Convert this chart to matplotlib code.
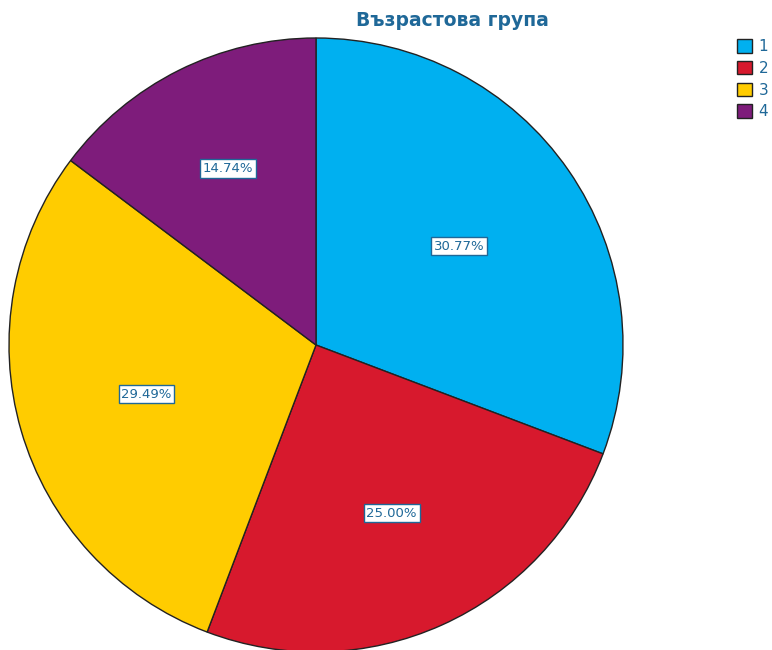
import numpy as np
import matplotlib.pyplot as plt

# ----------------------------
# Data
# ----------------------------
groups = ["1", "2", "3", "4"]
shares = [30.77, 25.00, 29.49, 14.74]
colors = ["#00b0f0", "#d7192d", "#ffcc00", "#7e1c7b"]

TITLE = "Възрастова група"
TEXT_BLUE = "#1f6898"

W, H = 772, 650
CX, CY, R = 316, H - 345, 307

fig = plt.figure(figsize=(W / 100, H / 100), dpi=100)
ax = fig.add_axes([0, 0, 1, 1])

# pie drawn in pixel coordinates so it can sit off-centre like the original
wedges, _ = ax.pie(
    shares,
    colors=colors,
    startangle=90,
    counterclock=False,
    center=(CX, CY),
    radius=R,
    wedgeprops={"edgecolor": "#222222", "linewidth": 1.0},
)

# percentage labels sit at each sector's centroid
for w, s in zip(wedges, shares):
    theta = np.deg2rad(w.theta2 - w.theta1)
    mid = np.deg2rad((w.theta1 + w.theta2) / 2)
    d = 4 * R * np.sin(theta / 2) / (3 * theta)
    ax.text(CX + d * np.cos(mid), CY + d * np.sin(mid), f"{s:.2f}%",
            ha="center", va="center", fontsize=9.5, color=TEXT_BLUE,
            bbox={"boxstyle": "square,pad=0.2", "facecolor": "white",
                  "edgecolor": TEXT_BLUE, "linewidth": 1.0})

ax.set_xlim(0, W)
ax.set_ylim(0, H)
ax.set_aspect("equal")
ax.axis("off")

fig.text(452 / W, 1 - 20 / H, TITLE, ha="center", va="center",
         fontsize=13.5, fontweight="bold", color=TEXT_BLUE)

leg = ax.legend(wedges, groups, loc="upper left", bbox_to_anchor=(737 / W, 1 - 39 / H),
                bbox_transform=fig.transFigure, frameon=False, fontsize=11,
                handlelength=1.0, handleheight=1.0, handletextpad=0.4,
                labelspacing=0.44, borderaxespad=0, borderpad=0)
for txt in leg.get_texts():
    txt.set_color(TEXT_BLUE)

fig.savefig("out.png", dpi=100)
